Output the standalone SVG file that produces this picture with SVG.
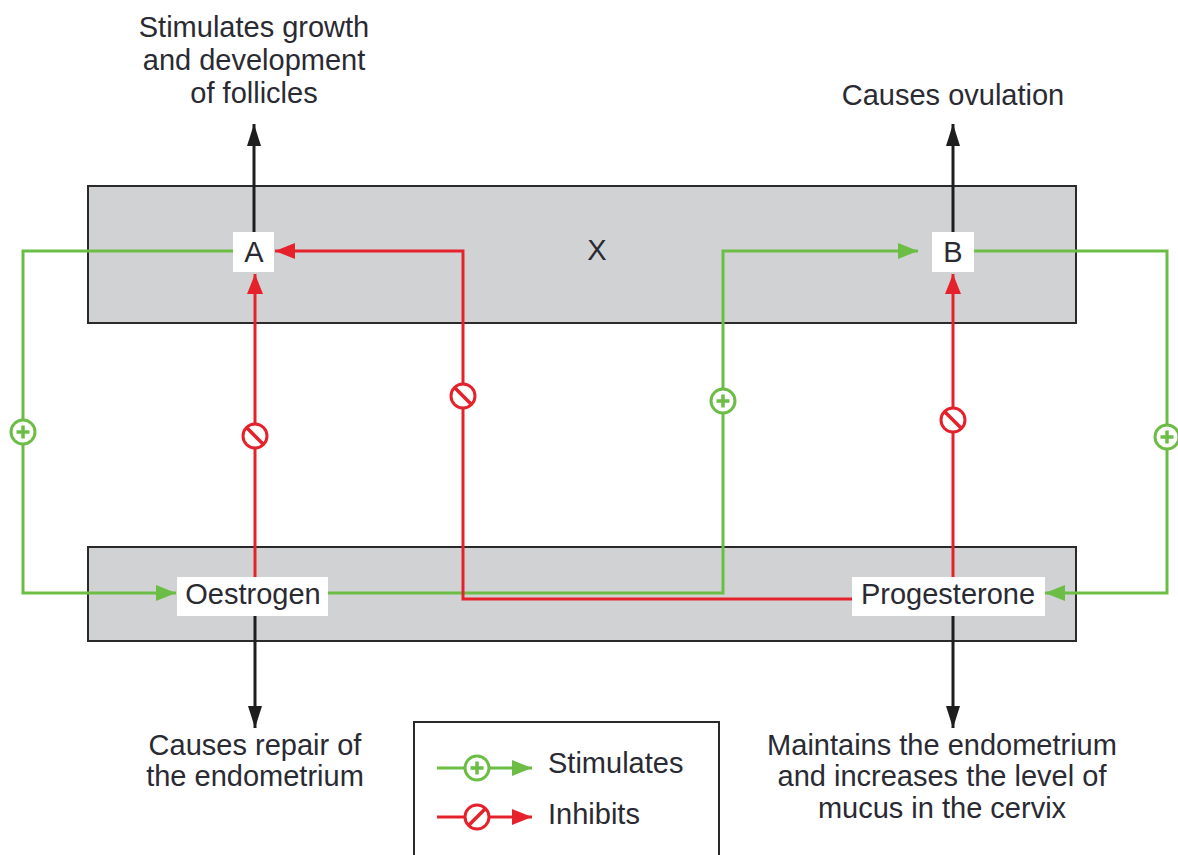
<svg xmlns="http://www.w3.org/2000/svg" width="1178" height="855" viewBox="0 0 1178 855">
<style>
  .band{fill:#d1d2d4;stroke:#2a2a2a;stroke-width:2}
  .lbl{fill:#ffffff;stroke:none}
  .t{font-family:"Liberation Sans",Arial,sans-serif;font-size:29px;fill:#2a2a33}
  .tc{text-anchor:middle}
  .g{fill:none;stroke:#6cbd45;stroke-width:3}
  .r{fill:none;stroke:#e5222b;stroke-width:3}
  .k{fill:none;stroke:#1e1e1e;stroke-width:3}
  .gc{fill:#ffffff;stroke:#6cbd45;stroke-width:3}
  .rc{fill:#ffffff;stroke:#e5222b;stroke-width:3}
  .gs{stroke:#6cbd45;stroke-width:3.5;fill:none}
  .rs{stroke:#e5222b;stroke-width:3.5;fill:none}
</style>
<defs>
  <marker id="ag" viewBox="0 0 20 16" refX="20" refY="8" markerWidth="20" markerHeight="16" markerUnits="userSpaceOnUse" orient="auto"><path d="M0,0 L20,8 L0,16 z" fill="#6cbd45"/></marker>
  <marker id="ar" viewBox="0 0 20 16" refX="20" refY="8" markerWidth="20" markerHeight="16" markerUnits="userSpaceOnUse" orient="auto"><path d="M0,0 L20,8 L0,16 z" fill="#e5222b"/></marker>
  <marker id="ak" viewBox="0 0 22 14" refX="22" refY="7" markerWidth="22" markerHeight="14" markerUnits="userSpaceOnUse" orient="auto"><path d="M0,0 L22,7 L0,14 z" fill="#1e1e1e"/></marker>
  <g id="plus"><circle r="12" class="gc"/><path d="M-6.5,0 H6.5 M0,-6.5 V6.5" class="gs"/></g>
  <g id="inh"><circle r="12" class="rc"/><path d="M-8,-8 L8,8" class="rs"/></g>
  <g id="inh2"><circle r="12" class="rc"/><path d="M-8,8 L8,-8" class="rs"/></g>
</defs>
<rect width="1178" height="855" fill="#ffffff"/>

<g id="band-x">
  <rect class="band" x="88" y="186" width="988" height="137"/>
  <text class="t tc" x="597" y="260" font-size="27">X</text>
</g>
<g id="band-hormones">
  <rect class="band" x="88" y="547" width="988" height="94"/>
</g>

<g id="connectors">
  <path class="k" d="M254,232 V124" marker-end="url(#ak)"/>
  <path class="k" d="M953,232 V124" marker-end="url(#ak)"/>
  <path class="k" d="M255,616 V728" marker-end="url(#ak)"/>
  <path class="k" d="M953,616 V728" marker-end="url(#ak)"/>
  <path class="g" d="M233,251 H23 V593 H176" marker-end="url(#ag)"/>
  <path class="g" d="M974,251 H1167 V593 H1045" marker-end="url(#ag)"/>
  <path class="g" d="M328,593 H723 V251 H918" marker-end="url(#ag)"/>
  <path class="r" d="M852,599 H463 V251 H275" marker-end="url(#ar)"/>
  <path class="r" d="M255,577 V274" marker-end="url(#ar)"/>
  <path class="r" d="M953,577 V274" marker-end="url(#ar)"/>
  <use href="#plus" x="23" y="432"/>
  <use href="#plus" x="723" y="401"/>
  <use href="#plus" x="1167" y="437"/>
  <use href="#inh" x="255" y="436"/>
  <use href="#inh" x="463" y="396"/>
  <use href="#inh" x="953" y="420"/>
</g>

<g id="node-A">
  <rect class="lbl" x="233" y="232" width="41" height="40"/>
  <text class="t tc" x="254" y="262" font-size="28">A</text>
</g>
<g id="node-B">
  <rect class="lbl" x="932" y="232" width="42" height="40"/>
  <text class="t tc" x="953" y="262" font-size="28">B</text>
</g>
<g id="node-oestrogen">
  <rect class="lbl" x="177" y="577" width="151" height="39"/>
  <text class="t tc" x="253" y="604">Oestrogen</text>
</g>
<g id="node-progesterone">
  <rect class="lbl" x="852" y="577" width="193" height="39"/>
  <text class="t tc" x="948" y="604">Progesterone</text>
</g>

<g id="text-follicles">
  <text class="t tc" x="254" y="37">Stimulates growth</text>
  <text class="t tc" x="254" y="70">and development</text>
  <text class="t tc" x="254" y="103">of follicles</text>
</g>
<g id="text-ovulation">
  <text class="t tc" x="953" y="105">Causes ovulation</text>
</g>
<g id="text-repair">
  <text class="t tc" x="255" y="755">Causes repair of</text>
  <text class="t tc" x="255" y="786">the endometrium</text>
</g>
<g id="text-maintains">
  <text class="t tc" x="942" y="755">Maintains the endometrium</text>
  <text class="t tc" x="942" y="786">and increases the level of</text>
  <text class="t tc" x="942" y="818">mucus in the cervix</text>
</g>

<g id="legend">
  <rect x="414" y="722" width="305" height="140" fill="#ffffff" stroke="#2a2a2a" stroke-width="2"/>
  <path class="g" d="M437,768 H532" marker-end="url(#ag)"/>
  <use href="#plus" x="477" y="768"/>
  <text class="t" x="548" y="773" font-size="28">Stimulates</text>
  <path class="r" d="M437,817 H532" marker-end="url(#ar)"/>
  <use href="#inh2" x="477" y="817"/>
  <text class="t" x="548" y="824" font-size="28">Inhibits</text>
</g>
</svg>
